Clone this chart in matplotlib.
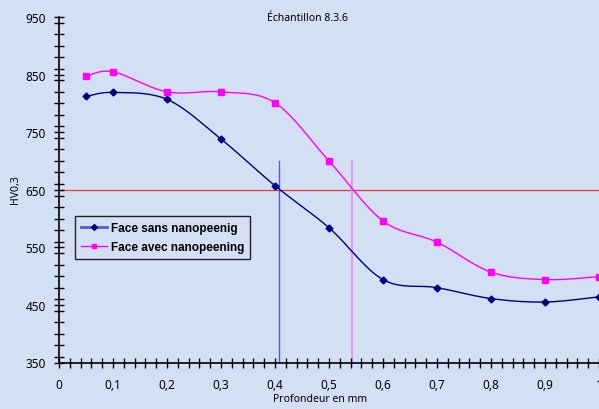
import numpy as np
import matplotlib.pyplot as plt
from matplotlib.ticker import MultipleLocator, FuncFormatter

depth = [0.05, 0.1, 0.2, 0.3, 0.4, 0.5, 0.6, 0.7, 0.8, 0.9, 1.0]
hv_sans = [812, 819, 807, 738, 657, 584, 494, 480, 461, 455, 464]
hv_avec = [847, 855, 820, 820, 801, 700, 596, 559, 507, 494, 499]
seuil = 650
x_sans = 0.407
x_avec = 0.542
top_lines = 700
y_ticks = [350, 450, 550, 650, 750, 850, 950]

bg = '#d3dff2'


def smooth(x, y, n=20):
    # Catmull-Rom, roughly like the "smoothed line" of a spreadsheet chart
    p = np.column_stack([x, y]).astype(float)
    p = np.vstack([p[0], p, p[-1]])
    out = []
    t = np.linspace(0, 1, n, endpoint=False)[:, None]
    for i in range(1, len(p) - 2):
        p0, p1, p2, p3 = p[i - 1], p[i], p[i + 1], p[i + 2]
        seg = 0.5 * ((2 * p1) + (-p0 + p2) * t
                     + (2 * p0 - 5 * p1 + 4 * p2 - p3) * t ** 2
                     + (-p0 + 3 * p1 - 3 * p2 + p3) * t ** 3)
        out.append(seg)
    out.append(p[-2][None, :])
    out = np.vstack(out)
    return out[:, 0], out[:, 1]


plt.rcParams['font.family'] = ['Noto Sans', 'DejaVu Sans']

fig = plt.figure(figsize=(5.99, 4.10), dpi=100, facecolor=bg)
ax = fig.add_axes([59 / 599, 1 - 363.5 / 410, 540 / 599, (363.5 - 18) / 410])
ax.set_facecolor(bg)

ax.axhline(seuil, color='#ff3030', lw=0.9, zorder=1)
ax.plot([x_sans, x_sans], [350, top_lines], color='#5a5acc', lw=1.0, zorder=1)
ax.plot([x_avec, x_avec], [350, top_lines], color='#ee88ee', lw=1.2, zorder=1)

sx, sy = smooth(depth, hv_sans)
ax.plot(sx, sy, color='#000080', lw=1.0, zorder=3)
ax.plot(depth, hv_sans, ls='none', marker='D', ms=3.5, color='#000080', zorder=4)
ax.plot([], [], color='#5a5acc', lw=2, marker='D', ms=3, mfc='#000080',
        mec='#000080', label='Face sans nanopeenig')

ax2x, ax2y = smooth(depth, hv_avec)
ax.plot(ax2x, ax2y, color='#ff00ff', lw=1.0, zorder=3)
ax.plot(depth, hv_avec, ls='none', marker='s', ms=3.8, color='#ff00ff', zorder=4)
ax.plot([], [], color='#ff00ff', lw=1, marker='s', ms=3.5,
        label='Face avec nanopeening')

ax.set_xlim(0, 1)
ax.set_ylim(350, 950)
ax.xaxis.set_major_locator(MultipleLocator(0.1))
ax.xaxis.set_minor_locator(MultipleLocator(0.02))
ax.set_yticks(y_ticks)
ax.yaxis.set_minor_locator(MultipleLocator(20))
ax.xaxis.set_major_formatter(FuncFormatter(lambda v, p: f'{v:g}'.replace('.', ',')))
ax.tick_params(which='both', direction='inout', length=7, width=1, labelsize=8.5)
ax.tick_params(axis='x', pad=8)
ax.tick_params(axis='y', pad=6)

for s in ['top', 'right']:
    ax.spines[s].set_visible(False)
ax.spines['left'].set_linewidth(1.2)
ax.spines['bottom'].set_linewidth(1.2)

fig.text(15 / 599, 1 - 190 / 410, 'HV0,3', rotation=90, ha='center', va='center',
         fontsize=7.5)
fig.text(320 / 599, 0.013, 'Profondeur en mm', ha='center', va='bottom', fontsize=7.5)
fig.text(307 / 599, 0.955, 'Échantillon 8.3.6', ha='center', va='center', fontsize=7.5)

leg = ax.legend(loc='upper left', bbox_to_anchor=(0.03, 0.424), frameon=True,
                fancybox=False, edgecolor='#222222', facecolor=bg, framealpha=1,
                prop={'family': 'Liberation Sans', 'weight': 'bold', 'size': 8.5},
                handlelength=2.2, handletextpad=0.3, borderpad=0.5,
                labelspacing=0.6, borderaxespad=0)
leg.get_frame().set_linewidth(1.0)

fig.savefig('out.png', dpi=100, facecolor=bg)
